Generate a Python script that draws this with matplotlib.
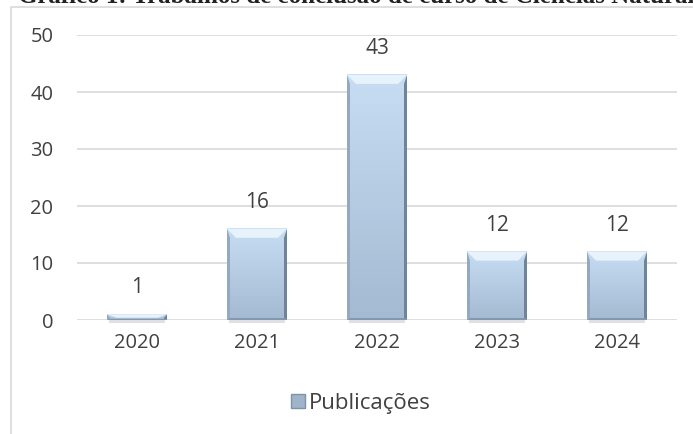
import numpy as np
import matplotlib.pyplot as plt
from matplotlib.patches import Polygon, Rectangle
from matplotlib.lines import Line2D
from matplotlib.colors import LinearSegmentedColormap

# dados do gráfico
anos = ['2020', '2021', '2022', '2023', '2024']
publicacoes = [1, 16, 43, 12, 12]
serie = 'Publicações'
titulo = 'Gráfico 1: Trabalhos de conclusão de curso de Ciências Naturais'

COR_TEXTO = '#404040'
COR_GRADE = '#d9d9d9'

plt.rcParams['font.family'] = ['Open Sans', 'DejaVu Sans']

fig = plt.figure(figsize=(6.93, 4.34), dpi=100)
W, H = 693, 434

# titulo cortado no topo
fig.text(18 / W, 1 - 3 / H, titulo, family='Liberation Serif', fontweight='bold',
         fontsize=18, color='#222222', va='baseline', ha='left')

# moldura da area do grafico (so esquerda e topo aparecem)
fig.add_artist(Line2D([11 / W, 11 / W, 1], [0, 1 - 7 / H, 1 - 7 / H],
                      transform=fig.transFigure, color=COR_GRADE, lw=1.2))

ax = fig.add_axes([77 / W, 1 - 320 / H, 600 / W, 285 / H])
x = np.arange(len(anos))
barras = ax.bar(x, publicacoes, width=0.5, color='#b9d0e8', edgecolor='none', zorder=2)

# tamanho de 1 pixel em unidades de dados
px_x = 1 / 120
px_y = 50 / 285

# efeito de bisel nas barras
gradiente = np.linspace(0, 1, 64).reshape(-1, 1)
cmap_face = LinearSegmentedColormap.from_list('face', ['#a3bad2', '#c6ddf3'])
for b in barras:
    x0, w, h = b.get_x(), b.get_width(), b.get_height()
    x1 = x0 + w
    lado = 3 * px_x
    topo_x = 9 * px_x
    topo_y = min(9 * px_y, h * 0.6)
    base = min(2 * px_y, h * 0.2)
    # sombra embaixo
    ax.add_patch(Rectangle((x0 + 2 * px_x, -2.5 * px_y), w - 4 * px_x, 2.5 * px_y,
                           facecolor='#c8ccd2', alpha=0.6, lw=0, zorder=1.9, clip_on=False))
    ax.imshow(gradiente, extent=(x0, x1, 0, h), origin='lower', cmap=cmap_face,
              aspect='auto', zorder=2.1)
    ax.add_patch(Polygon([(x0, 0), (x0, h), (x0 + lado, h - topo_y), (x0 + lado, base)],
                         facecolor='#93a9c0', lw=0, zorder=2.2))
    ax.add_patch(Polygon([(x1, 0), (x1, h), (x1 - lado, h - topo_y), (x1 - lado, base)],
                         facecolor='#6f8399', lw=0, zorder=2.2))
    ax.add_patch(Polygon([(x0, 0), (x1, 0), (x1 - lado, base), (x0 + lado, base)],
                         facecolor='#8397ad', lw=0, zorder=2.2))
    ax.add_patch(Polygon([(x0, h), (x1, h), (x1 - topo_x, h - topo_y), (x0 + topo_x, h - topo_y)],
                         facecolor='#e8f2fb', lw=0, zorder=2.3))
    ax.annotate(str(h), (x0 + w / 2, h), xytext=(0, 19), textcoords='offset points',
                ha='center', va='center', fontsize=15, color=COR_TEXTO)

ax.set_xlim(-0.5, len(anos) - 0.5)
ax.set_ylim(0, 50)
ax.set_yticks(range(0, 51, 10))
ax.set_xticks(x, anos)
ax.grid(axis='y', color=COR_GRADE, lw=1.2)
ax.set_axisbelow(True)
for s in ax.spines.values():
    s.set_visible(False)
ax.tick_params(length=0, labelsize=14.5, colors=COR_TEXTO)
ax.tick_params(axis='y', pad=17)
ax.tick_params(axis='x', pad=9)

# legenda
marcador = Rectangle((0, 0), 1, 1, facecolor='#9fb4ca', edgecolor='#7e92a8')
fig.legend([marcador], [serie], loc='center', bbox_to_anchor=(361 / W, 1 - 403 / H),
           frameon=False, fontsize=16, handlelength=0.6, handleheight=0.6,
           handletextpad=0.2, labelcolor=COR_TEXTO)

fig.savefig('out.png', dpi=100)
